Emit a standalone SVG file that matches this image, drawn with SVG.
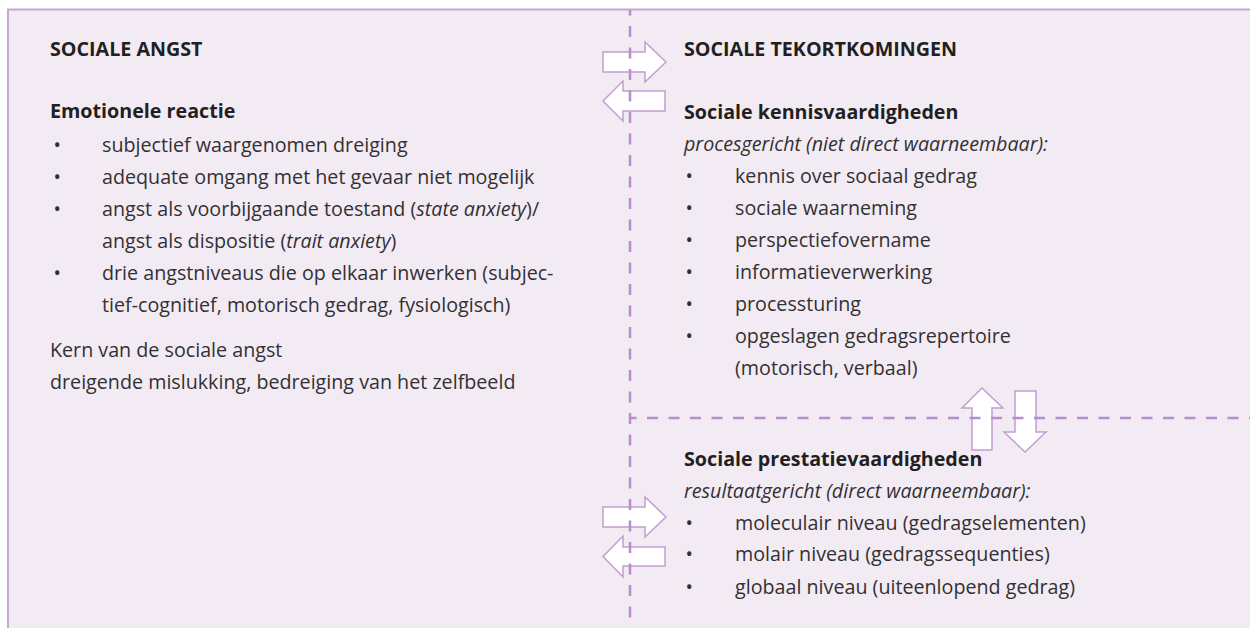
<svg xmlns="http://www.w3.org/2000/svg" width="1250" height="628" viewBox="0 0 1250 628">
  <style>
    text { font-family: "Open Sans", "Noto Sans", sans-serif; font-size: 19.7px; fill: #333033; }
    .h { font-weight: bold; fill: #231f20; }
    .i { font-style: italic; }
    .arrow { fill: #ffffff; stroke: #c29ed1; stroke-width: 1.5; stroke-linejoin: miter; }
    .div { stroke: #b98ccb; stroke-width: 2.5; stroke-dasharray: 11 10.5; stroke-dashoffset: 5.5; fill: none; }
  </style>

  <!-- panel -->
  <rect x="8" y="9.5" width="1262" height="640" fill="#f2ebf4" stroke="#c6a6d3" stroke-width="2"/>

  <!-- interaction arrows -->
  <g id="connectors">
    <polygon class="arrow" points="603,52 645,52 645,42 666,62 645,82 645,72 603,72"/>
    <polygon class="arrow" points="665,91 623,91 623,81 603,101 623,121 623,111 665,111"/>
    <polygon class="arrow" points="603,507 645,507 645,497 666,517 645,537 645,527 603,527"/>
    <polygon class="arrow" points="665,547 623,547 623,536 603,556.5 623,577 623,566 665,566"/>
    <polygon class="arrow" points="972,450 972,408 962,408 982,388 1003,408 992,408 992,450"/>
    <polygon class="arrow" points="1015,391 1036,391 1036,432 1046,432 1025,452 1004,432 1015,432"/>
  </g>

  <!-- dashed dividers -->
  <g id="dividers">
    <line class="div" x1="630" y1="10" x2="630" y2="628"/>
    <line class="div" x1="631" y1="418" x2="1250" y2="418"/>
  </g>

  <g id="sociale-angst">
    <text class="h" x="50" y="56">SOCIALE ANGST</text>
  </g>

  <g id="emotionele-reactie">
    <text class="h" x="50" y="118">Emotionele reactie</text>
    <text x="53.5" y="152">•</text><text x="102" y="152">subjectief waargenomen dreiging</text>
    <text x="53.5" y="184">•</text><text x="102" y="184">adequate omgang met het gevaar niet mogelijk</text>
    <text x="53.5" y="216">•</text><text x="102" y="216">angst als voorbijgaande toestand (<tspan class="i">state anxiety</tspan>)/</text>
    <text x="102" y="248">angst als dispositie (<tspan class="i">trait anxiety</tspan>)</text>
    <text x="53.5" y="280">•</text><text x="102" y="280">drie angstniveaus die op elkaar inwerken (subjec-</text>
    <text x="102" y="312">tief-cognitief, motorisch gedrag, fysiologisch)</text>
  </g>

  <g id="kern">
    <text x="50" y="357">Kern van de sociale angst</text>
    <text x="50" y="389">dreigende mislukking, bedreiging van het zelfbeeld</text>
  </g>

  <g id="sociale-tekortkomingen">
    <text class="h" x="684" y="56">SOCIALE TEKORTKOMINGEN</text>
  </g>

  <g id="kennisvaardigheden">
    <text class="h" x="684" y="119">Sociale kennisvaardigheden</text>
    <text class="i" x="684" y="151">procesgericht (niet direct waarneembaar):</text>
    <text x="685.5" y="183">•</text><text x="735" y="183">kennis over sociaal gedrag</text>
    <text x="685.5" y="215">•</text><text x="735" y="215">sociale waarneming</text>
    <text x="685.5" y="247">•</text><text x="735" y="247">perspectiefovername</text>
    <text x="685.5" y="279">•</text><text x="735" y="279">informatieverwerking</text>
    <text x="685.5" y="311">•</text><text x="735" y="311">processturing</text>
    <text x="685.5" y="343">•</text><text x="735" y="343">opgeslagen gedragsrepertoire</text>
    <text x="735" y="375">(motorisch, verbaal)</text>
  </g>

  <g id="prestatievaardigheden">
    <text class="h" x="684" y="466">Sociale prestatievaardigheden</text>
    <text class="i" x="684" y="497.5">resultaatgericht (direct waarneembaar):</text>
    <text x="685.5" y="529.5">•</text><text x="735" y="529.5">moleculair niveau (gedragselementen)</text>
    <text x="685.5" y="561">•</text><text x="735" y="561">molair niveau (gedragssequenties)</text>
    <text x="685.5" y="593.5">•</text><text x="735" y="593.5">globaal niveau (uiteenlopend gedrag)</text>
  </g>
</svg>
